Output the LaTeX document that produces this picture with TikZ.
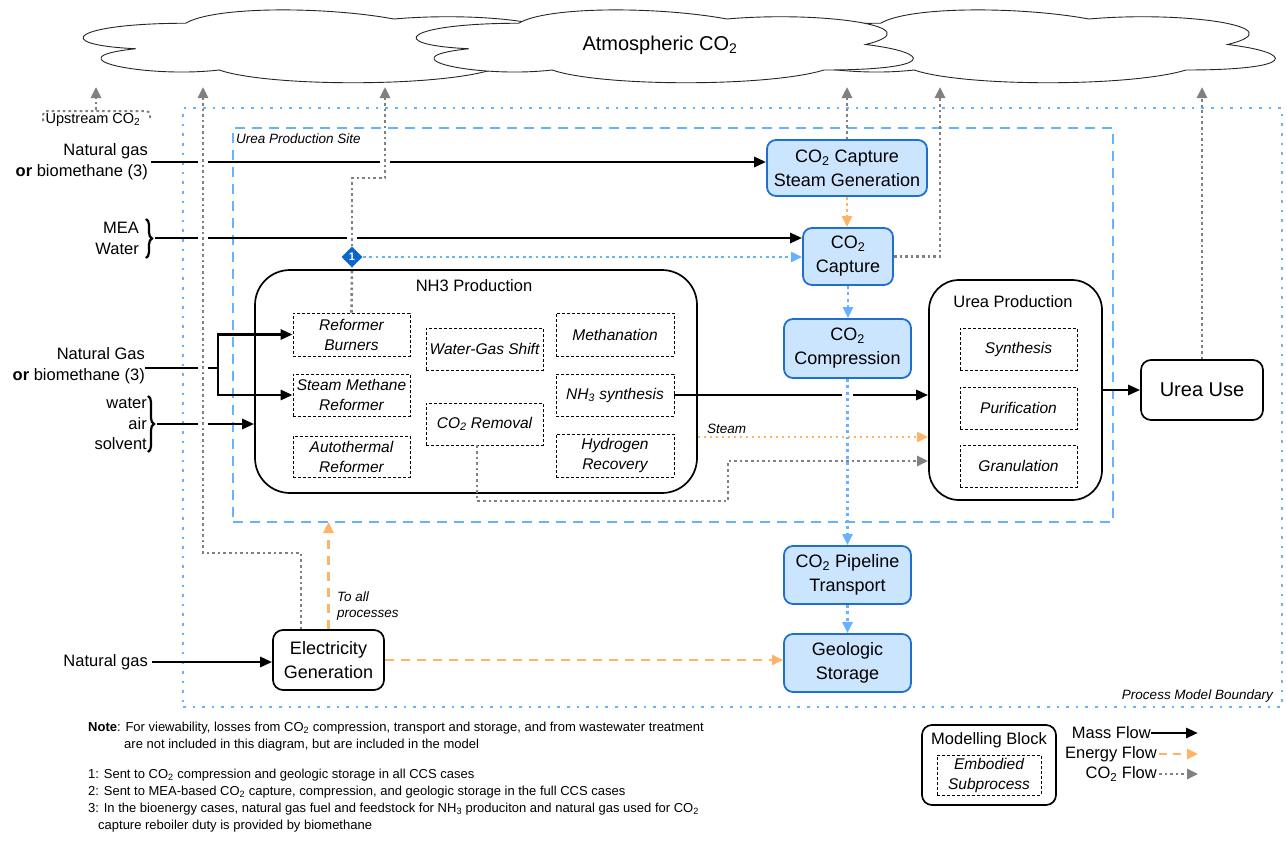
\documentclass[tikz,border=0pt]{standalone}
\usepackage{fontspec}
\setmainfont{Liberation Sans}
\usetikzlibrary{arrows.meta,shapes.geometric,decorations.pathreplacing,calc}
\definecolor{bfill}{HTML}{CCE5FF}
\definecolor{bdraw}{HTML}{1F6FD1}
\definecolor{lblue}{HTML}{66B2FF}
\definecolor{eorange}{HTML}{FFB366}
\definecolor{cgray}{HTML}{808080}
\definecolor{diablue}{HTML}{0A66CC}
\newcommand{\cotwo}{CO\textsubscript{2}}
\newcommand\szatm{\fontsize{20}{24}\selectfont}
\newcommand\szbox{\fontsize{18}{24}\selectfont}
\newcommand\szuse{\fontsize{20}{24}\selectfont}
\newcommand\szmid{\fontsize{16.5}{20}\selectfont}
\newcommand\szlab{\fontsize{16.5}{21}\selectfont}
\newcommand\szsub{\fontsize{15.5}{20}\selectfont}
\newcommand\szsmall{\fontsize{13.5}{16}\selectfont}
\newcommand\szup{\fontsize{14.5}{16}\selectfont}
\newcommand\sznote{\fontsize{13}{17}\selectfont}
\begin{document}
\begin{tikzpicture}[x=1pt,y=-1pt,
  cloudst/.style={draw=black!85, line width=0.9pt, fill=white},
  bluebox/.style={draw=bdraw, fill=bfill, line width=1.8pt, rounded corners=9pt, align=center, inner sep=0pt, font=\szbox},
  blkbox/.style={draw=black, line width=1.7pt, fill=white, align=center, inner sep=0pt},
  subbox/.style={draw=black, dash pattern=on 3pt off 2pt, line width=0.8pt, fill=white, align=center, inner sep=0pt, font=\szsub\itshape},
  lab/.style={align=right, font=\szlab, inner sep=0pt},
  mass/.style={line width=2.8pt, -{Triangle[length=12pt,width=10pt]}},
  massline/.style={line width=2.8pt},
  energy/.style={draw=eorange, line width=2.6pt, dash pattern=on 9pt off 7pt, -{Triangle[length=11pt,width=10pt]}},
  steamflow/.style={draw=eorange, line width=2.6pt, dash pattern=on 2.6pt off 3.4pt, -{Triangle[length=11pt,width=10pt]}},
  co2/.style={draw=cgray, line width=2.6pt, dash pattern=on 2.6pt off 3pt, -{Triangle[length=11pt,width=10pt]}},
  co2line/.style={draw=cgray, line width=2.6pt, dash pattern=on 2.6pt off 3pt},
  blueflow/.style={draw=lblue, line width=2.8pt, dash pattern=on 2.8pt off 3.6pt, -{Triangle[length=11pt,width=10pt]}},
  gap/.style={draw=white, line width=6pt},
  bracest/.style={line width=2.2pt, decorate, decoration={brace, amplitude=6pt}}
]
\useasboundingbox (0,0) rectangle (1287,843);

% ---------- clouds ----------
\foreach \cx in {47,742,380}{
\begin{scope}[shift={(\cx,2)}, xscale=555, yscale=85]
\draw[cloudst] (0.25,0.25) .. controls (0.05,0.25) and (0,0.5) .. (0.16,0.55)
  .. controls (0,0.66) and (0.18,0.9) .. (0.31,0.8)
  .. controls (0.4,1) and (0.7,1) .. (0.8,0.8)
  .. controls (1,0.8) and (1,0.6) .. (0.875,0.5)
  .. controls (1,0.3) and (0.8,0.1) .. (0.625,0.2)
  .. controls (0.5,0.05) and (0.3,0.05) .. (0.25,0.25) -- cycle;
\end{scope}}
\node[font=\szatm] (atm) at (660,45) {Atmospheric \cotwo};

% ---------- boundaries ----------
\node[draw=lblue, line width=2.6pt, dash pattern=on 2.6pt off 7pt, minimum width=1099pt, minimum height=599pt, inner sep=0pt, outer sep=0pt] (pmb) at (732.5,407.5) {};
\node[draw=lblue, line width=2.6pt, dash pattern=on 10pt off 7pt, minimum width=880pt, minimum height=394pt, inner sep=0pt, outer sep=0pt] (site) at (673,325) {};
\node[font=\szsmall\itshape, anchor=west, inner sep=0pt] (sitel) at (236,139) {Urea Production Site};
\node[font=\szsmall\itshape, anchor=east, inner sep=0pt] (pmbl) at (1273,696) {Process Model Boundary};

% ---------- main blocks ----------
\node[bluebox, minimum width=160pt, minimum height=56pt] (csg) at (847,168) {\cotwo{} Capture\\Steam Generation};
\node[bluebox, minimum width=90pt, minimum height=57pt] (cap) at (848,256.5) {\cotwo\\Capture};
\node[bluebox, minimum width=127pt, minimum height=59pt] (comp) at (847.5,348.5) {\cotwo\\Compression};
\node[bluebox, minimum width=127pt, minimum height=58pt] (pipe) at (847.5,575) {\cotwo{} Pipeline\\Transport};
\node[bluebox, minimum width=127pt, minimum height=58pt] (geo) at (847.5,663) {Geologic\\Storage};

\node[blkbox, rounded corners=35pt, minimum width=442pt, minimum height=223pt] (nh3) at (476,381.5) {};
\node[font=\szmid, inner sep=0pt] (nh3t) at (474,286) {NH3 Production};
\node[subbox, minimum width=117pt, minimum height=43pt] (rb) at (351.5,334.5) {Reformer\\Burners};
\node[subbox, minimum width=117pt, minimum height=42pt] (smr) at (351.5,395) {Steam Methane\\Reformer};
\node[subbox, minimum width=117pt, minimum height=41pt] (atr) at (351.5,456.5) {Autothermal\\Reformer};
\node[subbox, minimum width=117pt, minimum height=42pt] (wgs) at (484.5,349) {Water-Gas Shift};
\node[subbox, minimum width=117pt, minimum height=42pt] (cor) at (484.5,424) {\cotwo{} Removal};
\node[subbox, minimum width=118pt, minimum height=43pt] (meth) at (615,334.5) {Methanation};
\node[subbox, minimum width=118pt, minimum height=42pt] (nsyn) at (615,395) {NH\textsubscript{3} synthesis};
\node[subbox, minimum width=118pt, minimum height=43pt] (hrec) at (615,455.5) {Hydrogen\\Recovery};

\node[blkbox, rounded corners=30pt, minimum width=173pt, minimum height=220pt] (urea) at (1015.5,390) {};
\node[font=\szmid, inner sep=0pt] (ureat) at (1013,302) {Urea Production};
\node[subbox, minimum width=117pt, minimum height=42pt] (syn) at (1018.5,349) {Synthesis};
\node[subbox, minimum width=117pt, minimum height=42pt] (pur) at (1018.5,408) {Purification};
\node[subbox, minimum width=117pt, minimum height=42pt] (gran) at (1018.5,466) {Granulation};

\node[blkbox, rounded corners=10pt, minimum width=122pt, minimum height=60pt, font=\szuse] (use) at (1202,390) {Urea Use};
\node[blkbox, rounded corners=10pt, minimum width=111pt, minimum height=60pt, font=\szbox] (elec) at (328.5,660) {Electricity\\Generation};

% ---------- diamond ----------
\node[diamond, fill=diablue, text=white, inner sep=0pt, minimum width=21pt, minimum height=21pt, font=\fontsize{11}{11}\selectfont\bfseries] (d1) at (352,257) {1};

% ---------- left labels ----------
\node[lab, anchor=east] (ng1) at (148,162) {Natural gas\\\textbf{or} biomethane (3)};
\node[lab, anchor=east] (mea) at (139,238) {MEA\\Water};
\node[lab, anchor=east] (ng2) at (145,366) {Natural Gas\\\textbf{or} biomethane (3)};
\node[lab, anchor=east, font=\fontsize{16.5}{20.5}\selectfont] (was) at (147,424) {water\\air\\solvent};
\node[lab, anchor=east] (ng3) at (148,662) {Natural gas};
\node[font=\szup, inner sep=0pt] (up) at (93,120) {Upstream \cotwo};

\draw[bracest] (146,219) -- (146,258);
\draw[bracest] (148,396) -- (148,452);
\coordinate (meatip) at (155,238);
\coordinate (wastip) at (157,424);
\coordinate (j) at (218,368);

% ---------- mass flows ----------
\draw[mass] ([xshift=3pt]ng1.east) -- (ng1.east -| csg.west);
\draw[mass] (meatip) -- (meatip -| cap.west);
\draw[massline] (ng2.east |- j) -- (j);
\draw[mass] (j) |- (rb.west);
\draw[mass] (j) |- (smr.west);
\draw[mass] (wastip) -- (wastip -| nh3.west);
\draw[mass] ([xshift=4pt]ng3.east) -- (ng3.east -| elec.west);
\draw[mass] (nsyn.east) -- (nsyn.east -| urea.west);
\draw[mass] (urea.east) -- (use.west);

% gaps (line hops)
\draw[gap] (198,162) -- (208,162);
\draw[gap] (380,162) -- (390,162);
\draw[gap] (198,238) -- (208,238);
\draw[gap] (347,238) -- (357,238);
\draw[gap] (198,368) -- (208,368);
\draw[gap] (198,424) -- (208,424);
\draw[gap] (842,395) -- (853,395);

% ---------- CO2 flows ----------
\coordinate (sky0) at (96,87);
\coordinate (sky1) at (203,87);
\coordinate (sky2) at (385,87);
\coordinate (k1) at (385,178);
\coordinate (k2) at (940,257);
\coordinate (e1) at (301,553);
\coordinate (c1) at (477,501);
\coordinate (c2) at (728,461);
\coordinate (upt) at (96,110);
\draw[co2line, line width=2pt, rounded corners=4pt] (43,121) -- (43,111) -- (150,111) -- (150,119);
\draw[co2] (upt) -- (sky0);
\draw[co2] (elec.north -| e1) -- (e1) -| (sky1);
\draw[co2line] (rb.north) -- (d1.south);
\draw[co2] (d1.north) |- (k1) -- (sky2);
\draw[co2] (csg.north) -- (csg.north |- sky1);
\draw[co2] (cap.east) -- (cap.east -| k2) -- (k2 |- sky1);
\draw[co2] (use.north) -- (use.north |- sky1);
\draw[co2] (cor.south -| c1) -- (c1) -| (c2) -- (c2 -| urea.west);

% ---------- captured CO2 ----------
\draw[blueflow] (d1.east) -- (d1.east -| cap.west);
\draw[blueflow] (cap.south) -- (cap.south |- comp.north);
\draw[blueflow] (comp.south) -- (comp.south |- pipe.north);
\draw[blueflow] (pipe.south) -- (geo.north);

% ---------- energy ----------
\draw[steamflow] (csg.south) -- (csg.south |- cap.north);
\coordinate (s1) at (697,437);
\draw[steamflow] (nh3.east |- s1) -- (s1 -| urea.west);
\node[font=\szsmall\itshape, anchor=south west, inner sep=1pt] (stl) at (706,435) {Steam};
\draw[energy] (elec.east) -- (elec.east -| geo.west);
\draw[energy] (elec.north) -- (elec.north |- site.south);
\node[font=\szsmall\itshape, align=left, anchor=west, inner sep=0pt] (tap) at (337,606) {To all\\processes};

% ---------- legend ----------
\node[blkbox, rounded corners=10pt, minimum width=134pt, minimum height=80pt] (mb) at (989,765) {};
\node[font=\szmid, inner sep=0pt] (mbt) at (989,740) {Modelling Block};
\node[subbox, minimum width=104pt, minimum height=40pt] (es) at (989,775) {Embodied\\Subprocess};
\node[font=\szmid, anchor=east, inner sep=0pt] (lm) at (1151,733) {Mass Flow};
\node[font=\szmid, anchor=east, inner sep=0pt] (le) at (1157,754) {Energy Flow};
\node[font=\szmid, anchor=east, inner sep=0pt] (lc) at (1157,774) {\cotwo{} Flow};
\coordinate (lm2) at (1198,733);
\coordinate (le2) at (1198,754);
\coordinate (lc2) at (1198,774);
\draw[mass] (lm.east) -- (lm2);
\draw[energy, dash pattern=on 8pt off 6pt] ([xshift=2pt]le.east) -- (le2);
\draw[co2] ([xshift=2pt]lc.east) -- (lc2);

% ---------- notes ----------
\node[font=\sznote, anchor=base west, inner sep=0pt] (n0) at (88,731) {\textbf{Note}: For viewability, losses from \cotwo{} compression, transport and storage, and from wastewater treatment};
\node[font=\sznote, anchor=base west, inner sep=0pt] (n0b) at (124,748) {are not included in this diagram, but are included in the model};
\node[font=\sznote, anchor=base west, inner sep=0pt] (n1) at (88,778) {1: Sent to \cotwo{} compression and geologic storage in all CCS cases};
\node[font=\sznote, anchor=base west, inner sep=0pt] (n2) at (88,795) {2: Sent to MEA-based \cotwo{} capture, compression, and geologic storage in the full CCS cases};
\node[font=\sznote, anchor=base west, inner sep=0pt] (n3) at (88,812) {3: In the bioenergy cases, natural gas fuel and feedstock for NH\textsubscript{3} produciton and natural gas used for \cotwo};
\node[font=\sznote, anchor=base west, inner sep=0pt] (n3b) at (98,829) {capture reboiler duty is provided by biomethane};
\end{tikzpicture}
\end{document}
